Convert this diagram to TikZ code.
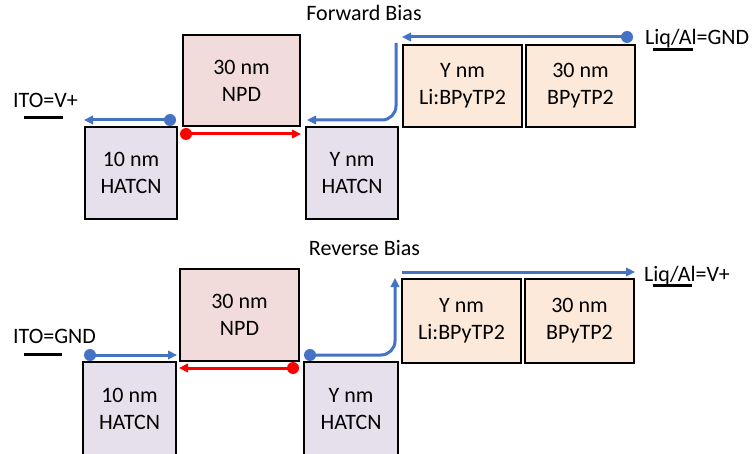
\documentclass[tikz,border=0pt]{standalone}
\usepackage{fontspec}
\setmainfont{Carlito}
\usetikzlibrary{arrows.meta}
\definecolor{npdfill}{HTML}{F2DCDB}
\definecolor{hatfill}{HTML}{E6E0EC}
\definecolor{bpyfill}{HTML}{FDE9D9}
\definecolor{wireblue}{HTML}{4472C4}
\definecolor{wirered}{HTML}{FF0000}
\tikzset{
  layer/.style={draw=black, line width=2pt, align=center, inner sep=0pt,
    font=\fontsize{22}{27}\selectfont},
  lbl/.style={font=\fontsize{22}{27}\selectfont, inner sep=0pt},
  flow/.style={line width=3pt, -{Triangle[length=9pt,width=8.5pt]}},
  bluewire/.style={flow, draw=wireblue, rounded corners=14pt},
  redwire/.style={flow, draw=wirered},
  bluedot/.style={fill=wireblue},
  reddot/.style={fill=wirered},
  ul/.style={line width=3pt, draw=black}
}
\begin{document}
\begin{tikzpicture}[x=1pt, y=-1pt]
  \clip (0,0) rectangle (754,454);
  \fill[white] (0,0) rectangle (754,454);

  % ---------- forward bias ----------
  \node[lbl, anchor=base] (titleF) at (364,21) {Forward Bias};
  \node[layer, fill=npdfill, minimum width=117pt, minimum height=91pt] (npdA) at (241.5,80.5) {30 nm\\NPD};
  \node[layer, fill=hatfill, minimum width=92pt, minimum height=92pt] (hlA) at (131,173) {10 nm\\HATCN};
  \node[layer, fill=hatfill, minimum width=92pt, minimum height=92pt] (hrA) at (352,173) {Y nm\\HATCN};
  \node[layer, fill=bpyfill, minimum width=119pt, minimum height=82pt] (liA) at (462.5,86) {Y nm\\Li:BPyTP2};
  \node[layer, fill=bpyfill, minimum width=109pt, minimum height=82pt] (bpA) at (580.5,86) {30 nm\\BPyTP2};

  \node[lbl, anchor=base west] (itoA) at (13,108) {ITO=V+};
  \draw[ul] (24,118) -- (63,118);
  \node[lbl, anchor=base west] (liqA) at (645,45) {Liq/Al=GND};
  \draw[ul] (653,50) -- (693,50);

  \coordinate (gA) at (627,37);
  \draw[bluewire] (gA) -- (gA -| liA.west);
  \fill[bluedot] (gA) circle (6pt);

  \coordinate (bendA) at (396,43);
  \coordinate (endA) at (307,120);
  \draw[bluewire] (bendA) |- (endA);

  \coordinate (vA) at (170,120);
  \draw[bluewire] (vA) -- (vA -| hlA.west);
  \fill[bluedot] (vA) circle (6pt);

  \coordinate (rA) at (186,134);
  \draw[redwire] (rA) -- (rA -| npdA.east);
  \fill[reddot] (rA) circle (6pt);

  % ---------- reverse bias ----------
  \node[lbl, anchor=base] (titleR) at (364.5,255) {Reverse Bias};
  \node[layer, fill=npdfill, minimum width=119pt, minimum height=92pt] (npdB) at (239.5,315) {30 nm\\NPD};
  \node[layer, fill=hatfill, minimum width=93pt, minimum height=94pt] (hlB) at (129.5,409) {10 nm\\HATCN};
  \node[layer, fill=hatfill, minimum width=94pt, minimum height=94pt] (hrB) at (351,409) {Y nm\\HATCN};
  \node[layer, fill=bpyfill, minimum width=119pt, minimum height=84pt] (liB) at (461.5,321) {Y nm\\Li:BPyTP2};
  \node[layer, fill=bpyfill, minimum width=109pt, minimum height=84pt] (bpB) at (579.5,321) {30 nm\\BPyTP2};

  \node[lbl, anchor=base west] (itoB) at (13,343) {ITO=GND};
  \draw[ul] (24,354) -- (62,354);
  \node[lbl, anchor=base west] (liqB) at (644,281) {Liq/Al=V+};
  \draw[ul] (653,285) -- (692,285);

  \coordinate (sB) at (402,272);
  \draw[bluewire] (sB) -- (sB -| bpB.east);

  \coordinate (dB) at (310,355);
  \coordinate (upB) at (395,278);
  \draw[bluewire] (dB) -| (upB);
  \fill[bluedot] (dB) circle (6pt);

  \coordinate (gB) at (90,355);
  \draw[bluewire] (gB) -- (gB -| hlB.east);
  \fill[bluedot] (gB) circle (6pt);

  \coordinate (rB) at (293,368);
  \draw[redwire] (rB) -- (rB -| npdB.west);
  \fill[reddot] (rB) circle (6pt);
\end{tikzpicture}
\end{document}
